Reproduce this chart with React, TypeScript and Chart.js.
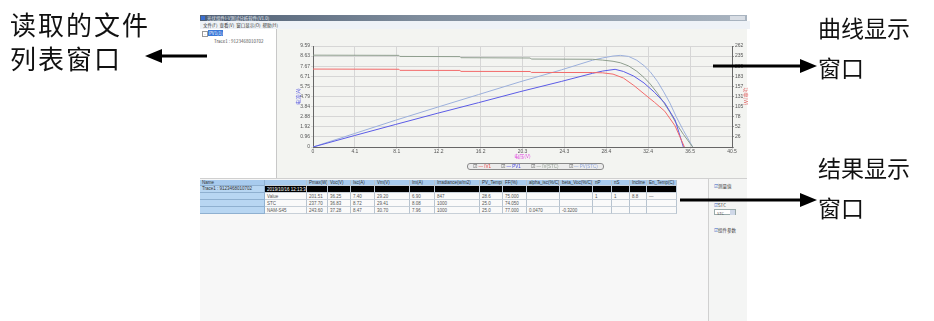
import React, { useEffect, useRef } from 'react';
import { Chart, registerables } from 'chart.js';
Chart.register(...registerables);

// ---- chart data ----
const xTickLabels = ['0', '4.1', '8.1', '12.2', '16.2', '20.3', '24.3', '28.4', '32.4', '36.5', '40.5'];
const yLeftTickLabels = ['0', '0.96', '1.92', '2.88', '3.84', '4.79', '5.75', '6.71', '7.67', '8.63', '9.59'];
const yRightTickLabels = ['', '26', '52', '78', '105', '131', '157', '183', '209', '235', '262'];
const xMax = 40.5;
const yLeftMax = 9.59;
const yRightMax = 262;

const legendLabels = ['IV1', 'PV1', 'IV(STC)', 'PV(STC)'];

const ivPV1V = [0, 8.3, 8.4, 14.2, 14.3, 21.0, 21.1, 27.0, 28.0, 29.0, 30.0, 31.0, 32.0, 33.0, 34.0, 35.0, 35.9];
const ivPV1I = [7.40, 7.38, 7.28, 7.27, 7.18, 7.17, 7.08, 7.07, 7.04, 6.92, 6.55, 5.85, 5.05, 4.25, 3.40, 2.00, 0];

const pvPV1V = [0, 4, 8, 12, 16, 20, 24, 27, 28, 29.2, 30, 31, 32, 33, 34, 35, 35.8];
const pvPV1P = [0, 29.6, 58.6, 87.3, 115, 143.4, 170, 191, 197, 201.5, 196, 184, 166, 142, 114, 70, 0];

const ivSTCV = [0, 8.3, 8.4, 14.2, 14.3, 21.0, 21.1, 27.0, 28.0, 29.0, 29.7, 30.5, 31.3, 32.0, 32.6, 33.3, 33.9, 34.5, 35.1, 35.8, 36.7];
const ivSTCI = [8.72, 8.70, 8.60, 8.58, 8.48, 8.45, 8.35, 8.33, 8.25, 8.14, 8.00, 7.70, 7.19, 6.60, 5.98, 5.10, 4.22, 3.30, 2.25, 1.20, 0];

const pvSTCV = [0, 4, 8, 12, 16, 20, 24, 27, 28, 29, 29.7, 30.5, 31.3, 32.0, 32.6, 33.3, 33.9, 34.5, 35.1, 35.8, 36.7];
const pvSTCP = [0, 34.8, 69.6, 103, 136, 169, 200, 225, 231, 236, 237.7, 235, 225, 211, 195, 170, 143, 114, 79, 43, 0];

// ---- table data ----
const tableHeaders = ['', 'Pmax(W)', 'Voc(V)', 'Isc(A)', 'Vm(V)', 'Im(A)', 'Irradiance(w/m2)', 'PV_Temp(C)', 'FF(%)', 'alpha_isc(%/C)', 'beta_Voc(%/C)', 'nP', 'nS', 'Incline', 'En_Temp(C)'];
const rowValue = ['Value', '201.51', '36.25', '7.40', '29.20', '6.90', '847', '28.6', '75.000', '', '', '1', '1', '8.8', '—'];
const rowSTC = ['STC', '237.70', '36.83', '8.72', '29.41', '8.08', '1000', '25.0', '74.050', '', '', '', '', '', ''];
const rowNam = ['NAM-S45', '243.60', '37.28', '8.47', '30.70', '7.96', '1000', '25.0', '77.000', '0.0470', '-0.3200', '', '', '', ''];
const traceName = 'Trace1 : 9123468010702';
const traceTime = '2019/10/16 12:13:34';

const colX = [265, 307, 328, 351, 375, 410, 435, 480, 503, 527, 560, 593, 612, 630, 647, 677];

const CJK = '"Noto Sans CJK SC", "Noto Sans", sans-serif';

function Arrow({ x1, x2, y, dir }: { x1: number; x2: number; y: number; dir: 'left' | 'right' }) {
  const head = 17;
  const hh = 7;
  if (dir === 'left') {
    return (
      <g>
        <line x1={x1 + head - 2} y1={y} x2={x2} y2={y} stroke="#000" strokeWidth={3} />
        <polygon points={`${x1},${y} ${x1 + head},${y - hh} ${x1 + head},${y + hh}`} fill="#000" />
      </g>
    );
  }
  return (
    <g>
      <line x1={x1} y1={y} x2={x2 - head + 2} y2={y} stroke="#000" strokeWidth={3} />
      <polygon points={`${x2},${y} ${x2 - head},${y - hh} ${x2 - head},${y + hh}`} fill="#000" />
    </g>
  );
}

function TableRow({ cells, top, h, bg, color }: { cells: string[]; top: number; h: number; bg: string; color: string }) {
  return (
    <>
      {cells.map((c, i) => (
        <div key={i} style={{ position: 'absolute', left: colX[i], top, width: colX[i + 1] - colX[i], height: h, background: bg, color, borderRight: '1px solid #b8c4d0', borderBottom: '1px solid #c8d0d8', boxSizing: 'border-box', fontSize: 4.5, lineHeight: h + 'px', paddingLeft: 2, overflow: 'hidden', whiteSpace: 'nowrap', fontFamily: 'Arial, sans-serif' }}>{c}</div>
      ))}
    </>
  );
}

export default function App() {
  const ref = useRef<HTMLCanvasElement>(null);
  useEffect(() => {
    document.body.style.margin = '0';
    document.body.style.background = '#ffffff';
    const mk = (xs: number[], ys: number[]) => xs.map((x, i) => ({ x, y: ys[i] }));
    const ticksFor = (labels: string[], max: number) => (axis: any) => {
      axis.ticks = labels.map((_, i) => ({ value: (max * i) / 10 }));
    };
    const chart = new Chart(ref.current!, {
      type: 'line',
      data: {
        datasets: [
          { label: legendLabels[0], data: mk(ivPV1V, ivPV1I), borderColor: '#f26a6a', yAxisID: 'y' },
          { label: legendLabels[1], data: mk(pvPV1V, pvPV1P), borderColor: '#5b5be6', yAxisID: 'y1' },
          { label: legendLabels[2], data: mk(ivSTCV, ivSTCI), borderColor: '#8e9e8e', yAxisID: 'y' },
          { label: legendLabels[3], data: mk(pvSTCV, pvSTCP), borderColor: '#9cb0dc', yAxisID: 'y1' },
        ],
      },
      options: {
        animation: false,
        responsive: false,
        maintainAspectRatio: false,
        elements: { point: { radius: 0 }, line: { borderWidth: 1, tension: 0 } },
        layout: { padding: { top: 17, left: 0, right: 0, bottom: 0 } },
        plugins: { legend: { display: false }, tooltip: { enabled: false } },
        scales: {
          x: {
            type: 'linear',
            min: 0,
            max: xMax,
            afterBuildTicks: ticksFor(xTickLabels, xMax),
            afterFit: (s: any) => { s.height = 31; },
            ticks: { callback: (_v: any, i: number) => xTickLabels[i], font: { size: 5 }, color: '#555', padding: 0, maxRotation: 0, autoSkip: false },
            grid: { color: '#d6d6d6', tickLength: 2 },
            border: { color: '#666' },
            title: { display: true, text: '电压(V)', color: '#e040e0', font: { size: 5, family: CJK }, padding: { top: 0, bottom: 19 } },
          },
          y: {
            type: 'linear',
            position: 'left',
            min: 0,
            max: yLeftMax,
            afterBuildTicks: ticksFor(yLeftTickLabels, yLeftMax),
            afterFit: (s: any) => { s.width = 36; },
            ticks: { callback: (_v: any, i: number) => yLeftTickLabels[i], font: { size: 5 }, color: '#555', padding: 1, autoSkip: false },
            grid: { color: '#d6d6d6', tickLength: 2 },
            border: { color: '#666' },
            title: { display: true, text: '电流(A)', color: '#5a5ae0', font: { size: 5, family: CJK }, padding: { top: 18, bottom: 0 } },
          },
          y1: {
            type: 'linear',
            position: 'right',
            min: 0,
            max: yRightMax,
            afterBuildTicks: ticksFor(yRightTickLabels, yRightMax),
            afterFit: (s: any) => { s.width = 17; },
            ticks: { callback: (_v: any, i: number) => yRightTickLabels[i], font: { size: 5 }, color: '#555', padding: 1, autoSkip: false },
            grid: { drawOnChartArea: false, tickLength: 2, color: '#999' },
            border: { color: '#666' },
            title: { display: true, text: '功率(W)', color: '#e06060', font: { size: 5, family: CJK }, padding: { top: 0, bottom: 0 } },
          },
        },
      },
    } as any);
    return () => chart.destroy();
  }, []);

  const legendColors = ['#e84848', '#4848e0', '#909c90', '#8fa6dc'];

  return (
    <div style={{ position: 'fixed', left: 0, top: 0, width: 934, height: 321, background: '#fff', overflow: 'hidden', fontFamily: CJK }}>
      {/* window screenshot */}
      <div style={{ position: 'absolute', left: 200, top: 15, width: 547, height: 340, background: '#f2f2f0' }}>
        {/* title bar */}
        <div style={{ position: 'absolute', left: 0, top: 0, width: 547, height: 6, background: 'linear-gradient(90deg,#4f5f74 0%,#7e8c9c 40%,#a9b4c0 100%)' }} />
        <div style={{ position: 'absolute', left: 1, top: 1, width: 4, height: 4, background: '#3a6ed0' }} />
        <div style={{ position: 'absolute', left: 7, top: 0, fontSize: 4.5, lineHeight: '6px', color: '#e8ecf2', whiteSpace: 'nowrap' }}>光伏组件I-V测试分析软件(V1.0)</div>
        <div style={{ position: 'absolute', left: 530, top: 1, width: 15, height: 4, background: '#d8dde4' }} />
        {/* menu */}
        <div style={{ position: 'absolute', left: 0, top: 6, width: 547, height: 8, background: '#eef2f7', fontSize: 4.5, lineHeight: '8px', color: '#333', whiteSpace: 'nowrap', paddingLeft: 3 }}>文件(F)&nbsp;&nbsp;查看(V)&nbsp;&nbsp;窗口显示(O)&nbsp;&nbsp;帮助(H)</div>
        {/* tree panel */}
        <div style={{ position: 'absolute', left: 0, top: 14, width: 77, height: 149, background: '#fff', borderRight: '1px solid #c8c8c8', boxSizing: 'border-box' }}>
          <div style={{ position: 'absolute', left: 2, top: 2, width: 4, height: 4, border: '0.5px solid #999', fontSize: 4, lineHeight: '4px', color: '#555', textAlign: 'center' }}>-</div>
          <div style={{ position: 'absolute', left: 8, top: 1, padding: '0 1px', background: '#3a78d8', color: '#fff', fontSize: 4.5, lineHeight: '6px' }}>PV1(1)</div>
          <div style={{ position: 'absolute', left: 14, top: 9, color: '#555', fontSize: 4.5, lineHeight: '6px', whiteSpace: 'nowrap' }}>{traceName}</div>
        </div>
        {/* chart panel */}
        <div style={{ position: 'absolute', left: 77, top: 14, width: 470, height: 149, background: '#f3f4f1' }} />
        {/* table area */}
        <div style={{ position: 'absolute', left: 0, top: 163, width: 508, height: 180, background: '#f7f7f7', borderTop: '1px solid #d0d0d0', boxSizing: 'border-box' }} />
        <div style={{ position: 'absolute', left: 508, top: 163, width: 39, height: 180, background: '#f4f5f4', borderLeft: '1px solid #d0d0d0', borderTop: '1px solid #d0d0d0', boxSizing: 'border-box' }} />
        <div style={{ position: 'absolute', left: 514, top: 168, fontSize: 4.5, color: '#444', whiteSpace: 'nowrap' }}><span style={{ color: '#3060c0' }}>☑</span>测量值</div>
        <div style={{ position: 'absolute', left: 514, top: 187, fontSize: 4.5, color: '#444', whiteSpace: 'nowrap' }}><span style={{ color: '#3060c0' }}>☑</span>STC</div>
        <div style={{ position: 'absolute', left: 514, top: 194, width: 22, height: 6, border: '0.5px solid #9aa', background: '#fff', fontSize: 4, lineHeight: '6px', color: '#555', boxSizing: 'border-box', paddingLeft: 2 }}>STC<span style={{ position: 'absolute', right: 0, top: 0, width: 5, height: 5, background: '#cfd8e8' }} /></div>
        <div style={{ position: 'absolute', left: 514, top: 212, fontSize: 4.5, color: '#444', whiteSpace: 'nowrap' }}><span style={{ color: '#3060c0' }}>☑</span>组件参数</div>
      </div>

      {/* table */}
      <div style={{ position: 'absolute', left: 200, top: 180, width: 65, height: 34 }}>
        {['Name', traceName, '', '', ''].map((t, i) => (
          <div key={i} style={{ position: 'absolute', left: 0, top: [0, 6, 13, 20, 27][i], width: 65, height: [6, 7, 7, 7, 7][i], background: i === 0 ? '#a8cbee' : '#b8d6f2', borderBottom: '1px solid #8fb0d0', borderRight: '1px solid #8fb0d0', boxSizing: 'border-box', fontSize: 4.5, lineHeight: '6px', paddingLeft: 2, color: '#333', whiteSpace: 'nowrap', overflow: 'hidden', fontFamily: 'Arial, sans-serif' }}>{t}</div>
        ))}
      </div>
      <TableRow cells={tableHeaders} top={180} h={6} bg="#a8cbee" color="#333" />
      <TableRow cells={[traceTime, '', '', '', '', '', '', '', '', '', '', '', '', '', '']} top={186} h={7} bg="#000" color="#fff" />
      <TableRow cells={rowValue} top={193} h={7} bg="#fafafa" color="#555" />
      <TableRow cells={rowSTC} top={200} h={7} bg="#fafafa" color="#555" />
      <TableRow cells={rowNam} top={207} h={7} bg="#fafafa" color="#555" />

      {/* chart canvas */}
      <canvas ref={ref} width={472} height={149} style={{ position: 'absolute', left: 277, top: 29, width: 472, height: 149 }} />

      {/* legend */}
      <div style={{ position: 'absolute', left: 467, top: 163, width: 137, height: 7, border: '1px solid #8a8a8a', borderRadius: 3, background: '#ececec', boxSizing: 'border-box', display: 'flex', alignItems: 'center', justifyContent: 'space-around', fontSize: 4.5, fontFamily: 'Arial, sans-serif' }}>
        {legendLabels.map((l, i) => (
          <span key={i} style={{ color: legendColors[i], whiteSpace: 'nowrap' }}><span style={{ color: '#555' }}>☑</span> — {l}</span>
        ))}
      </div>

      {/* annotations */}
      <svg width={934} height={321} style={{ position: 'absolute', left: 0, top: 0 }}>
        <Arrow x1={145} x2={207} y={56} dir="left" />
        <Arrow x1={713} x2={817} y={66} dir="right" />
        <Arrow x1={680} x2={817} y={200} dir="right" />
      </svg>
      <div style={{ position: 'absolute', left: 10, top: 8, fontSize: 26, letterSpacing: 2, lineHeight: '32px', color: '#111', whiteSpace: 'nowrap' }}>读取的文件</div>
      <div style={{ position: 'absolute', left: 10, top: 42, fontSize: 26, letterSpacing: 2, lineHeight: '32px', color: '#111', whiteSpace: 'nowrap' }}>列表窗口</div>
      <div style={{ position: 'absolute', left: 818, top: 12, fontSize: 23, letterSpacing: 0, lineHeight: '30px', color: '#111', whiteSpace: 'nowrap' }}>曲线显示</div>
      <div style={{ position: 'absolute', left: 818, top: 52, fontSize: 23, letterSpacing: 0, lineHeight: '30px', color: '#111', whiteSpace: 'nowrap' }}>窗口</div>
      <div style={{ position: 'absolute', left: 818, top: 152, fontSize: 23, letterSpacing: 0, lineHeight: '30px', color: '#111', whiteSpace: 'nowrap' }}>结果显示</div>
      <div style={{ position: 'absolute', left: 818, top: 192, fontSize: 23, letterSpacing: 0, lineHeight: '30px', color: '#111', whiteSpace: 'nowrap' }}>窗口</div>
    </div>
  );
}
